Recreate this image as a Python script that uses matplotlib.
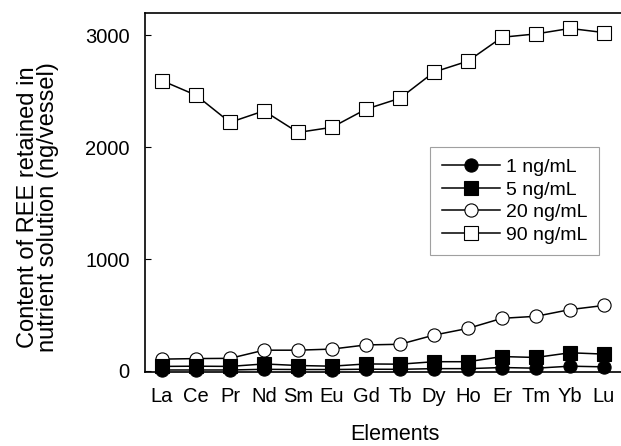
import matplotlib
matplotlib.use("Agg")
import matplotlib.pyplot as plt

plt.rcParams['font.family'] = ['Liberation Sans', 'DejaVu Sans']

# Data
elements = ["La", "Ce", "Pr", "Nd", "Sm", "Eu", "Gd", "Tb", "Dy", "Ho", "Er", "Tm", "Yb", "Lu"]
c1 = [8, 8, 8, 14, 12, 12, 15, 14, 20, 20, 30, 24, 42, 36]
c5 = [40, 42, 40, 62, 48, 42, 62, 60, 82, 82, 128, 120, 162, 150]
c20 = [105, 110, 112, 185, 185, 195, 232, 238, 320, 380, 470, 488, 548, 585]
c90 = [2595, 2465, 2222, 2325, 2132, 2178, 2340, 2438, 2672, 2770, 2983, 3013, 3062, 3025]

fig = plt.figure(figsize=(6.21, 4.46), dpi=100)
ax = fig.add_axes([145 / 621, 1 - 372 / 446, (621 - 145) / 621, (372 - 13) / 446])

x = list(range(len(elements)))
kw = dict(color="black", lw=1.1, markersize=9.5, markeredgecolor="black",
          markeredgewidth=0.8, clip_on=False)
ax.plot(x, c90, marker="s", markerfacecolor="white", label="90 ng/mL", **kw)
ax.plot(x, c20, marker="o", markerfacecolor="white", label="20 ng/mL", **kw)
ax.plot(x, c5, marker="s", markerfacecolor="black", label="5 ng/mL", **kw)
ax.plot(x, c1, marker="o", markerfacecolor="black", label="1 ng/mL", **kw)

ax.set_xlim(-0.5, len(elements) - 0.5)
ax.set_ylim(-10, 3200)
ax.set_yticks([0, 1000, 2000, 3000])
ax.set_xticks(x)
ax.set_xticklabels(elements)
ax.tick_params(axis="y", direction="in", length=4, labelsize=14.5, pad=11)
ax.tick_params(axis="x", length=0, labelsize=14.5, pad=11)
ax.spines["right"].set_visible(False)
for s in ["left", "top", "bottom"]:
    ax.spines[s].set_linewidth(1.2)

ax.set_xlabel("Elements", fontsize=15.5)
ax.xaxis.set_label_coords(0.5 + 12 / 476, (372 - 424) / 359)
ax.set_ylabel("Content of REE retained in\nnutrient solution (ng/vessel)", fontsize=17,
              linespacing=0.9)
ax.yaxis.set_label_coords((59 - 145) / 476, (372 - 207) / 359)

handles, labels = ax.get_legend_handles_labels()
leg = ax.legend(handles[::-1], labels[::-1], loc="upper left",
                bbox_to_anchor=((430 - 145) / 476, (372 - 147) / 359),
                fontsize=14, frameon=True, fancybox=False, edgecolor="#888888",
                handlelength=3.0, handletextpad=0.3, borderpad=0.6, labelspacing=0.25,
                borderaxespad=0)
leg.get_frame().set_linewidth(0.8)

fig.savefig("out.png", dpi=100)
